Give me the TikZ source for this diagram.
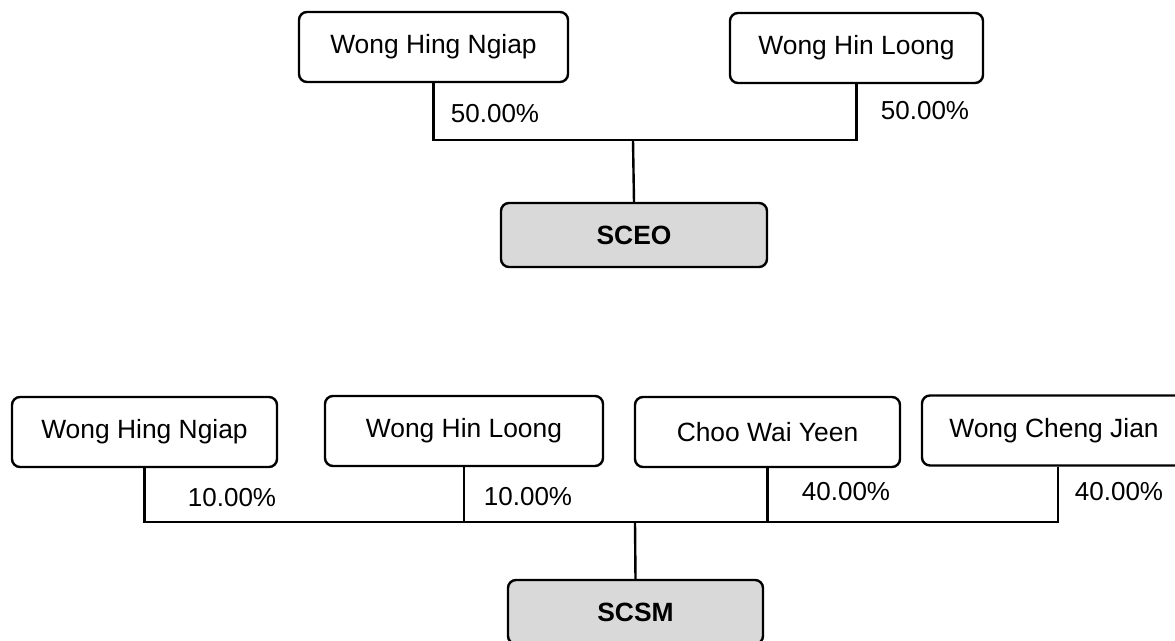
\documentclass[tikz,border=0pt]{standalone}
\usepackage{fontspec}
\setmainfont{Liberation Sans}
\begin{document}
\begin{tikzpicture}[x=0.5pt,y=-0.5pt,
  line width=1.2pt,
  person/.style={draw, rounded corners=4pt, minimum height=35pt, inner sep=0pt,
    font=\fontsize{13.2}{15}\selectfont},
  company/.style={draw, rounded corners=4pt, fill=black!15, minimum height=32pt, inner sep=0pt,
    font=\fontsize{13.2}{15}\selectfont\bfseries},
  pct/.style={inner sep=0pt, font=\fontsize{13}{15}\selectfont}]
\useasboundingbox (0,0) rectangle (1175,641);
% top structure
\node[person, minimum width=134.5pt] (t1) at (433.5,47) {Wong Hing Ngiap};
\node[person, minimum width=126.5pt] (t2) at (856.5,48) {Wong Hin Loong};
\node[company, minimum width=133pt] (sceo) at (634,235) {SCEO};
\coordinate (tj) at (633,140);
\draw (t1.south) |- (tj);
\draw (t2.south) |- (tj);
\draw (tj) -- (sceo.north);
\node[pct] (l1) at (495,114) {50.00\%};
\node[pct] (l2) at (925,111) {50.00\%};
% bottom structure
\node[person, minimum width=132.5pt] (b1) at (144.5,432) {Wong Hing Ngiap};
\node[person, minimum width=139pt] (b2) at (464,431) {Wong Hin Loong};
\node[person, minimum width=132.5pt] (b3) at (767.5,432) {Choo Wai Yeen};
\node[person, minimum width=136pt] (b4) at (1058,430.5) {\hspace*{-4pt}Wong Cheng Jian};
\node[company, minimum width=127.5pt] (scsm) at (635.5,612) {SCSM};
\coordinate (bj) at (635,522);
\draw (b1.south) |- (bj);
\draw (b4.south) |- (bj);
\draw (b2.south) -- (b2.south |- bj);
\draw (b3.south) -- (b3.south |- bj);
\draw (bj) -- (scsm.north);
\node[pct] (l3) at (232,498) {10.00\%};
\node[pct] (l4) at (528,497) {10.00\%};
\node[pct] (l5) at (846,492) {40.00\%};
\node[pct] (l6) at (1119,492) {40.00\%};
\end{tikzpicture}
\end{document}
